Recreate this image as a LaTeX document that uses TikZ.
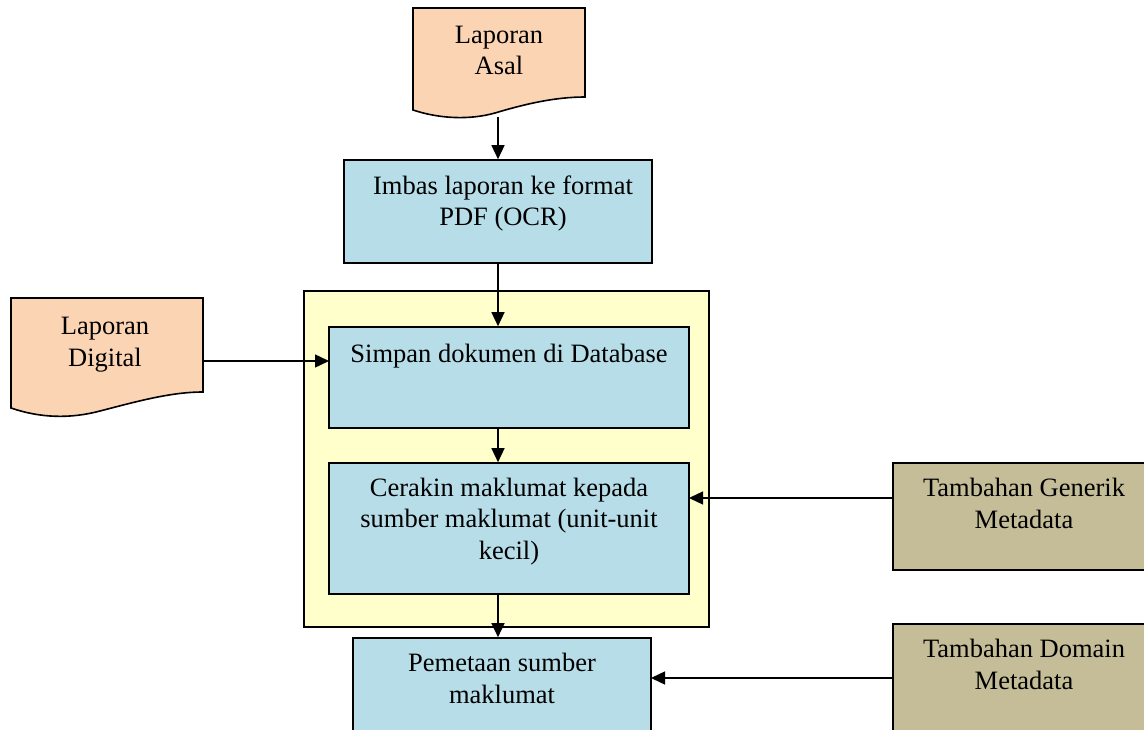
\documentclass[tikz,border=0pt]{standalone}
\usepackage{fontspec}
\setmainfont{Liberation Serif}
\usepackage{xcolor}
\usepackage{tikz}
\usetikzlibrary{arrows.meta}

\definecolor{docpeach}{HTML}{FBD4B4}
\definecolor{procblue}{HTML}{B7DDE8}
\definecolor{grpyellow}{HTML}{FFFFCC}
\definecolor{metatan}{HTML}{C4BD97}

\begin{document}
\begin{tikzpicture}[x=1pt, y=-1pt,
        box/.style={draw, line width=1.6pt, rectangle, inner sep=0pt},
        txt/.style={anchor=base, align=center, inner sep=0pt,
                    font=\fontsize{26.5}{31.5}\selectfont},
        arr/.style={line width=1.4pt, -{Triangle[length=14pt, width=13pt]}}]
        \clip (0, 0) rectangle (1144, 730);
        \fill[white] (0, 0) rectangle (1144, 730);

        % document shapes (wavy bottom)
        \filldraw[fill=docpeach, line width=1.6pt]
            (413, 8) -- (585, 8) -- (585, 97)
            .. controls (555, 97) and (525, 104) .. (495, 113)
            .. controls (470, 120) and (440, 119) .. (413, 110) -- cycle;
        \filldraw[fill=docpeach, line width=1.6pt]
            (11, 298) -- (203, 298) -- (203, 392)
            .. controls (170, 392) and (135, 402) .. (100, 411)
            .. controls (70, 419) and (40, 418) .. (11, 408) -- cycle;
        \node[inner sep=0pt, minimum width=172, minimum height=89] (asal)    at (499, 52.5) {};
        \node[inner sep=0pt, minimum width=192, minimum height=94] (digital) at (107, 345) {};
        \coordinate (asalend) at (498, 117);

        % container
        \node[box, fill=grpyellow, minimum width=405, minimum height=336] (group) at (506.5, 459) {};

        % process boxes
        \node[box, fill=procblue, minimum width=308, minimum height=103] (imbas)    at (498, 211.5) {};
        \node[box, fill=procblue, minimum width=360, minimum height=101] (simpan)   at (509, 377.5) {};
        \node[box, fill=procblue, minimum width=360, minimum height=131] (cerakin)  at (509, 528.5) {};
        \node[box, fill=procblue, minimum width=298, minimum height=107] (pemetaan) at (502, 691.5) {};

        % metadata boxes
        \node[box, fill=metatan, minimum width=262, minimum height=107] (generik) at (1024, 516.5) {};
        \node[box, fill=metatan, minimum width=262, minimum height=121] (domain)  at (1024, 684.5) {};

        % texts (placed by the baseline of their last line)
        \node[txt] (asal-t)     at (499, 75)   {Laporan\\Asal};
        \node[txt] (digital-t)  at (105, 366)  {Laporan\\Digital};
        \node[txt] (imbas-t)    at (503, 226)  {Imbas laporan ke format\\PDF (OCR)};
        \node[txt] (simpan-t)   at (509, 362)  {Simpan dokumen di Database};
        \node[txt] (cerakin-t)  at (509, 559)  {Cerakin maklumat kepada\\sumber maklumat (unit-unit\\kecil)};
        \node[txt] (pemetaan-t) at (502, 703)  {Pemetaan sumber\\maklumat};
        \node[txt] (generik-t)  at (1024, 528) {Tambahan Generik\\Metadata};
        \node[txt] (domain-t)   at (1024, 689) {Tambahan Domain\\Metadata};

        % arrow ends
        \coordinate (simpanin)   at (329, 361);
        \coordinate (cerakinin)  at (689, 498);
        \coordinate (pemetaanin) at (651, 678);

        % arrows
        \draw[arr] (asalend) -- (imbas.north);
        \draw[arr] (imbas.south) -- (simpan.north -| imbas);
        \draw[arr] (simpan.south -| imbas) -- (cerakin.north -| imbas);
        \draw[arr] (cerakin.south -| imbas) -- (pemetaan.north -| imbas);
        \draw[arr] (digital.east |- simpanin) -- (simpanin);
        \draw[arr] (generik.west |- cerakinin) -- (cerakinin);
        \draw[arr] (domain.west |- pemetaanin) -- (pemetaanin);
    \end{tikzpicture}
\end{document}
